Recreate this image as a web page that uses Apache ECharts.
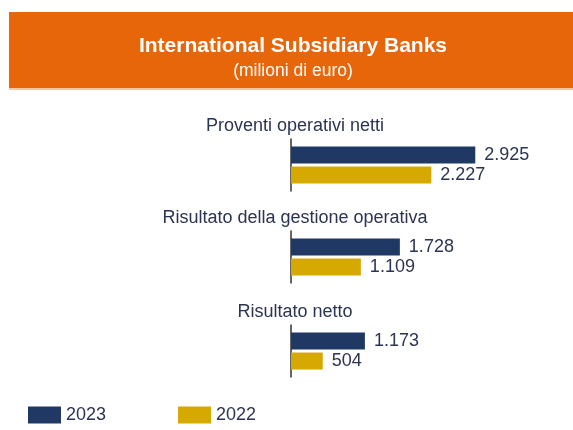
<!DOCTYPE html>
<html>
<head>
<meta charset="utf-8">
<script src="https://cdn.jsdelivr.net/npm/echarts@6/dist/echarts.min.js"></script>
<style>html,body{margin:0;padding:0;background:#fff}#c{width:573px;height:430px}</style>
</head>
<body>
<div id="c"></div>
<script>
var groups = ['Proventi operativi netti', 'Risultato della gestione operativa', 'Risultato netto'];
var seriesNames = ['2023', '2022'];
var values2023 = [2925, 1728, 1173];
var values2022 = [2227, 1109, 504];

var FONT = 'Liberation Sans, Arial, sans-serif';
var NAVY = '#1f3864';
var GOLD = '#d5a900';
var TEXT = '#2b3453';
var gridTops = [139, 231, 325];

function fmt(v) {
  return String(v).replace(/\B(?=(\d{3})+(?!\d))/g, '.');
}

var grids = [], xAxes = [], yAxes = [], series = [];
groups.forEach(function (g, i) {
  grids.push({ left: 291, top: gridTops[i], width: 252, height: 52 });
  xAxes.push({ type: 'value', gridIndex: i, min: 0, max: 4000, show: false });
  yAxes.push({
    type: 'category', gridIndex: i, data: [g],
    name: g, nameLocation: 'end', nameGap: 13,
    nameTextStyle: { fontFamily: FONT, fontSize: 18, color: TEXT, align: 'center', verticalAlign: 'middle', padding: [0, 0, 0, 8] },
    axisLine: { show: true, lineStyle: { color: '#333', width: 1.5 } },
    axisTick: { show: false }, axisLabel: { show: false }, splitLine: { show: false }
  });
  [values2023, values2022].forEach(function (vals, s) {
    series.push({
      type: 'bar', name: seriesNames[s], xAxisIndex: i, yAxisIndex: i,
      data: [vals[i]], barWidth: 17, barGap: '18%',
      itemStyle: { color: s === 0 ? NAVY : GOLD },
      label: { show: true, position: 'right', distance: 9, fontFamily: FONT, fontSize: 18, color: TEXT,
        formatter: function (p) { return fmt(p.value); } },
      animation: false
    });
  });
});

var chart = echarts.init(document.getElementById('c'));
chart.setOption({
  animation: false,
  graphic: [
    { type: 'rect', left: 9, top: 12, shape: { width: 564, height: 76 }, style: { fill: '#e8660a' }, z: -1 },
    { type: 'rect', left: 9, top: 88, shape: { width: 564, height: 2 }, style: { fill: '#f6c8a6' }, z: -1 }
  ],
  title: {
    text: 'International Subsidiary Banks',
    subtext: '(milioni di euro)',
    left: 293, textAlign: 'center', top: 36, itemGap: 5,
    padding: 0,
    textStyle: { fontFamily: FONT, fontSize: 21, fontWeight: 'bold', color: '#fff' },
    subtextStyle: { fontFamily: FONT, fontSize: 17.5, color: '#fff' }
  },
  legend: {
    data: seriesNames, left: 28, top: 406, icon: 'rect', padding: 0,
    itemWidth: 33, itemHeight: 17, itemGap: 72,
    textStyle: { fontFamily: FONT, fontSize: 18, color: TEXT }
  },
  grid: grids, xAxis: xAxes, yAxis: yAxes, series: series
});
</script>
</body>
</html>
